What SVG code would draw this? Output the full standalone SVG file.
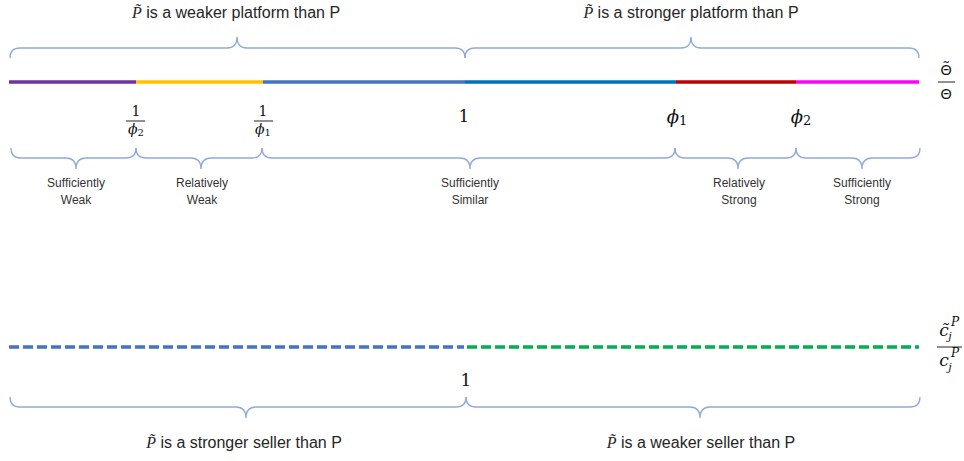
<svg xmlns="http://www.w3.org/2000/svg" width="964" height="461" viewBox="0 0 964 461">
<style>
.brace{fill:none;stroke:#8FAADC;stroke-width:1.3}
.lbl{font-family:"Liberation Sans",Arial,sans-serif;font-size:12px;fill:#333;text-anchor:middle}
.head{font-family:"Liberation Sans",Arial,sans-serif;font-size:16px;fill:#262626;text-anchor:middle}
.m{font-family:"Liberation Serif","DejaVu Serif",serif;font-style:italic}
.phi{font-family:"DejaVu Serif",serif;font-style:italic}
.num{font-family:"DejaVu Serif","Liberation Serif",serif;fill:#111;text-anchor:middle}
.th{font-family:"Noto Sans","DejaVu Sans",sans-serif;fill:#111;text-anchor:middle;font-size:15px}
.frac{stroke:#222;stroke-width:1}
</style>
<rect width="964" height="461" fill="#fff"/>
<g id="connectors">
<g id="top-axis" stroke-width="3.5" fill="none">
<line x1="9" y1="82" x2="136" y2="82" stroke="#7030A0"/>
<line x1="136" y1="82" x2="263" y2="82" stroke="#FFC000"/>
<line x1="263" y1="82" x2="465" y2="82" stroke="#4472C4"/>
<line x1="465" y1="82" x2="676" y2="82" stroke="#0070C0"/>
<line x1="676" y1="82" x2="796" y2="82" stroke="#C00000"/>
<line x1="796" y1="82" x2="919" y2="82" stroke="#FF00FF"/>
</g>
<g id="bottom-axis" stroke-width="3.5" fill="none" stroke-dasharray="10,4">
<line x1="9" y1="347" x2="464" y2="347" stroke="#4472C4"/>
<line x1="467" y1="347" x2="919" y2="347" stroke="#00B050"/>
</g>
</g>
<g id="brace-top-left">
<path class="brace" d="M10,58 Q10,48 20,48 L227,48 Q237,48 237,37 Q237,48 247,48 L455,48 Q465,48 465,58"/>
<text class="head" x="236" y="18"><tspan class="m">P̃</tspan> is a weaker platform than P</text>
</g>
<g id="brace-top-right">
<path class="brace" d="M465,58 Q465,48 475,48 L681,48 Q691,48 691,37 Q691,48 701,48 L909,48 Q919,48 919,58"/>
<text class="head" x="691" y="18"><tspan class="m">P̃</tspan> is a stronger platform than P</text>
</g>
<g id="seg-sufficiently-weak">
<path class="brace" d="M11,148 Q11,158 21,158 L66,158 Q76,158 76,169 Q76,158 86,158 L126,158 Q136,158 136,148"/>
<text class="lbl" x="76" y="187">Sufficiently</text>
<text class="lbl" x="76" y="204">Weak</text>
</g>
<g id="seg-relatively-weak">
<path class="brace" d="M136,148 Q136,158 146,158 L191,158 Q201,158 201,169 Q201,158 211,158 L252,158 Q262,158 262,148"/>
<text class="lbl" x="202" y="187">Relatively</text>
<text class="lbl" x="202" y="204">Weak</text>
</g>
<g id="seg-sufficiently-similar">
<path class="brace" d="M262,148 Q262,158 272,158 L460,158 Q470,158 470,169 Q470,158 480,158 L665,158 Q675,158 675,148"/>
<text class="lbl" x="470" y="187">Sufficiently</text>
<text class="lbl" x="470" y="204">Similar</text>
</g>
<g id="seg-relatively-strong">
<path class="brace" d="M675,148 Q675,158 685,158 L728,158 Q738,158 738,169 Q738,158 748,158 L786,158 Q796,158 796,148"/>
<text class="lbl" x="739" y="187">Relatively</text>
<text class="lbl" x="739" y="204">Strong</text>
</g>
<g id="seg-sufficiently-strong">
<path class="brace" d="M796,148 Q796,158 806,158 L852,158 Q862,158 862,169 Q862,158 872,158 L910,158 Q920,158 920,148"/>
<text class="lbl" x="862" y="187">Sufficiently</text>
<text class="lbl" x="862" y="204">Strong</text>
</g>
<g id="tick-inv-phi2">
<text class="num" x="136" y="116" font-size="14">1</text>
<line class="frac" x1="126" y1="121" x2="145" y2="121"/>
<text class="num" x="136" y="134" font-size="14"><tspan class="phi">ϕ</tspan><tspan font-size="10" dy="2">2</tspan></text>
</g>
<g id="tick-inv-phi1">
<text class="num" x="263" y="116" font-size="14">1</text>
<line class="frac" x1="254" y1="121" x2="273" y2="121"/>
<text class="num" x="263" y="134" font-size="14"><tspan class="phi">ϕ</tspan><tspan font-size="10" dy="2">1</tspan></text>
</g>
<g id="tick-one-top">
<text class="num" x="464" y="122" font-size="17">1</text>
</g>
<g id="tick-phi1">
<text class="num" x="677" y="123" font-size="18"><tspan class="phi">ϕ</tspan><tspan font-size="13" dy="2">1</tspan></text>
</g>
<g id="tick-phi2">
<text class="num" x="801" y="123" font-size="18"><tspan class="phi">ϕ</tspan><tspan font-size="13" dy="2">2</tspan></text>
</g>
<g id="axis-label-theta">
<text class="th" x="946" y="75">Θ̃</text>
<line class="frac" x1="938" y1="82" x2="955" y2="82"/>
<text class="th" x="946" y="99">Θ</text>
</g>
<g id="tick-one-bottom">
<text class="num" x="466" y="386" font-size="17">1</text>
</g>
<g id="axis-label-cost">
<text class="num m" x="944" y="336" font-size="17">c̃</text>
<text class="num m" x="950" y="340" font-size="11">j</text>
<text class="num m" x="955" y="326" font-size="12">P</text>
<line class="frac" x1="937" y1="347" x2="962" y2="347"/>
<text class="num m" x="944" y="366" font-size="17">c</text>
<text class="num m" x="950" y="371" font-size="11">j</text>
<text class="num m" x="955" y="357" font-size="12">P</text>
</g>
<g id="brace-bottom-left">
<path class="brace" d="M10,397 Q10,407 20,407 L236,407 Q246,407 246,418 Q246,407 256,407 L456,407 Q466,407 466,397"/>
<text class="head" x="244" y="448"><tspan class="m">P̃</tspan> is a stronger seller than P</text>
</g>
<g id="brace-bottom-right">
<path class="brace" d="M466,397 Q466,407 476,407 L690,407 Q700,407 700,418 Q700,407 710,407 L910,407 Q920,407 920,397"/>
<text class="head" x="701" y="448"><tspan class="m">P̃</tspan> is a weaker seller than P</text>
</g>
</svg>
